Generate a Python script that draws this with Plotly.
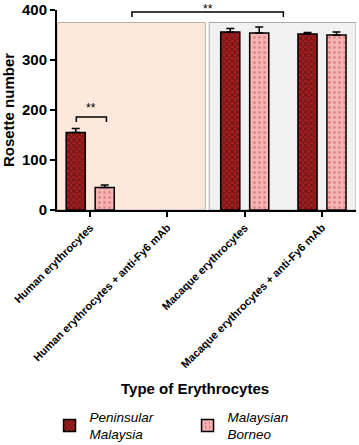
import plotly.graph_objects as go

categories = ["Human erythrocytes", "Human erythrocytes + anti-Fy6 mAb",
              "Macaque erythrocytes", "Macaque erythrocytes + anti-Fy6 mAb"]
peninsular = [155, None, 356, 352]
peninsular_err = [8, 0, 7, 3]
borneo = [45, None, 354, 350]
borneo_err = [5, 0, 12, 6]
series_names = ["Peninsular<br>Malaysia", "Malaysian<br>Borneo"]

FONT = "Liberation Sans, Arial, sans-serif"
fig = go.Figure()
fig.add_trace(go.Bar(
    x=categories, y=peninsular, name=series_names[0],
    marker=dict(color="#a82222", line=dict(color="black", width=1.5),
                pattern=dict(shape="x", size=4, solidity=0.55, fgcolor="#3e0404", fillmode="overlay")),
    error_y=dict(type="data", symmetric=False, array=peninsular_err, arrayminus=[0]*4,
                 color="black", thickness=1.5, width=4),
))
fig.add_trace(go.Bar(
    x=categories, y=borneo, name=series_names[1],
    marker=dict(color="#f6b4b4", line=dict(color="black", width=1.5),
                pattern=dict(shape=".", size=5, solidity=0.25, fgcolor="#c85a5a", fillmode="overlay")),
    error_y=dict(type="data", symmetric=False, array=borneo_err, arrayminus=[0]*4,
                 color="black", thickness=1.5, width=4),
))

# background regions
fig.add_shape(type="rect", xref="x", yref="y", x0=-0.43, x1=1.49, y0=0, y1=375,
              fillcolor="#fde9db", line=dict(color="#b8b0aa", width=1), layer="below")
fig.add_shape(type="rect", xref="x", yref="y", x0=1.54, x1=3.44, y0=0, y1=375,
              fillcolor="#f1f1f1", line=dict(color="#aaaaaa", width=1), layer="below")

# significance brackets
def bracket(x0, x1, y, drop, text, ty, anchor):
    fig.add_shape(type="path", xref="x", yref="y",
                  path=f"M {x0},{y-drop} L {x0},{y} L {x1},{y} L {x1},{y-drop}",
                  line=dict(color="black", width=1.5))
    fig.add_annotation(x=(x0 + x1) / 2, y=ty / 400, xref="x", yref="paper", text=text, showarrow=False,
                       font=dict(family=FONT, size=12, color="black"), yanchor=anchor)

bracket(-0.18, 0.21, 186, 10, "**", 204, "middle")
bracket(0.54, 2.5, 396, 10, "**", 420, "top")

fig.update_layout(
    width=359, height=445,
    margin=dict(l=57, r=3, t=10, b=235),
    plot_bgcolor="white", paper_bgcolor="white",
    barmode="group", bargap=0.25, bargroupgap=0.34,
    font=dict(family=FONT, color="black"),
    showlegend=True,
    legend=dict(orientation="h", xref="container", yref="container", x=0.138, y=0.043,
                xanchor="left", yanchor="middle", entrywidth=93, entrywidthmode="pixels",
                font=dict(family=FONT, size=13.5, style="italic", color="black"),
                traceorder="normal"),
)
fig.update_xaxes(
    range=[-0.43, 3.44], showline=True, linecolor="black", linewidth=2, automargin=False,
    ticks="outside", ticklen=5, tickwidth=2, tickcolor="black", tickangle=-45,
    tickfont=dict(family=FONT, size=11, weight="bold"), showgrid=False,
)
fig.update_yaxes(
    range=[0, 400], tickvals=[0, 100, 200, 300, 400], showline=True, linecolor="black", linewidth=2,
    ticks="outside", ticklen=5, tickwidth=2, tickcolor="black", showgrid=False, zeroline=False,
    automargin=False,
    tickfont=dict(family=FONT, size=15, weight="bold"),
    title=dict(text="Rosette number", font=dict(family=FONT, size=15, weight="bold"), standoff=12),
)
fig.add_annotation(text="Type of Erythrocytes", xref="paper", yref="paper", x=0.46, y=-0.89,
                   yanchor="middle",
                   showarrow=False, font=dict(family=FONT, size=15, weight="bold", color="black"))

fig.write_html("out.html", config={"displayModeBar": False},
               post_script="document.body.style.margin='0';")
